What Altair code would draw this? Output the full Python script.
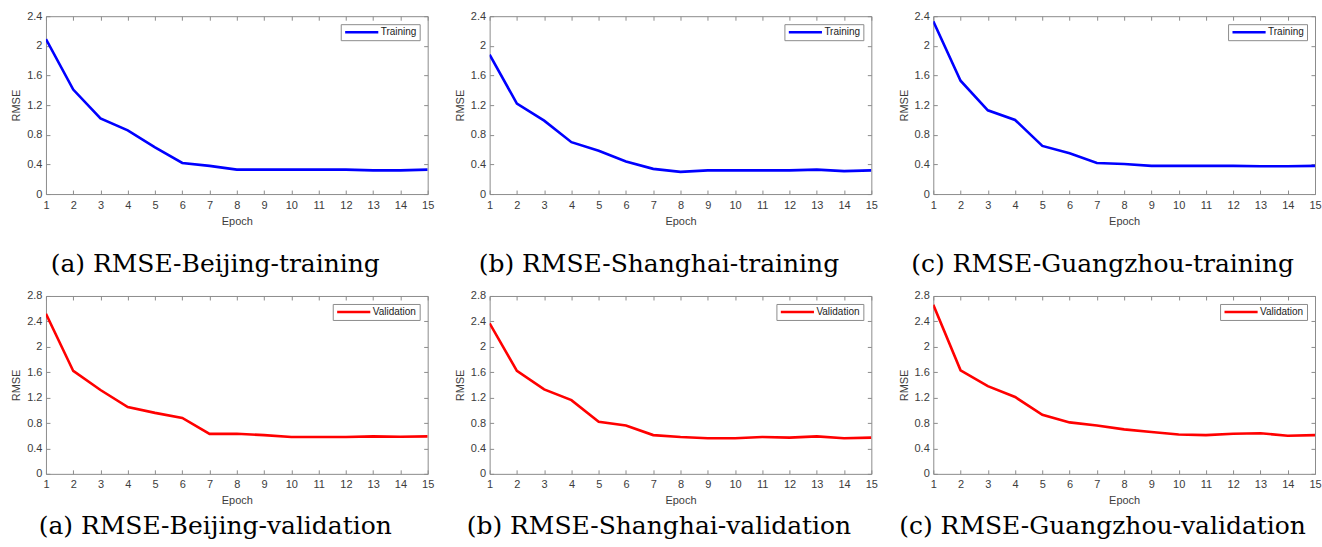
import altair as alt
import pandas as pd

epochs = list(range(1, 16))

bj_train = [2.09, 1.41, 1.02, 0.86, 0.63, 0.42, 0.38, 0.33, 0.33, 0.33, 0.33, 0.33, 0.32, 0.32, 0.33]
sh_train = [1.88, 1.22, 0.99, 0.70, 0.585, 0.44, 0.34, 0.30, 0.32, 0.32, 0.32, 0.32, 0.33, 0.31, 0.32]
gz_train = [2.33, 1.53, 1.13, 1.00, 0.65, 0.55, 0.42, 0.405, 0.38, 0.38, 0.38, 0.38, 0.375, 0.375, 0.38]

bj_val = [2.52, 1.62, 1.32, 1.05, 0.96, 0.88, 0.63, 0.63, 0.61, 0.58, 0.58, 0.58, 0.59, 0.585, 0.59]
sh_val = [2.37, 1.62, 1.33, 1.16, 0.82, 0.76, 0.61, 0.58, 0.56, 0.56, 0.58, 0.57, 0.59, 0.56, 0.57]
gz_val = [2.66, 1.63, 1.38, 1.21, 0.93, 0.81, 0.76, 0.70, 0.66, 0.62, 0.61, 0.63, 0.64, 0.60, 0.61]

train_yticks = [0, 0.4, 0.8, 1.2, 1.6, 2, 2.4]
val_yticks = [0, 0.4, 0.8, 1.2, 1.6, 2, 2.4, 2.8]

captions_train = ["(a) RMSE-Beijing-training", "(b) RMSE-Shanghai-training", "(c) RMSE-Guangzhou-training"]
captions_val = ["(a) RMSE-Beijing-validation", "(b) RMSE-Shanghai-validation", "(c) RMSE-Guangzhou-validation"]

FRAME = "#8c8c8c"
TXT = "#3c3c3c"
W, H = 382, 178
TICK = 4


def panel(values, series, color, yticks, caption, cap_offset):
    ymax = yticks[-1]
    df = pd.DataFrame({"Epoch": epochs, "RMSE": values, "series": [series] * len(epochs)})
    xs = alt.Scale(domain=[1, 15], nice=False, zero=False)
    ys = alt.Scale(domain=[0, ymax], nice=False)

    return alt.Chart(df).mark_line(strokeWidth=2.6, clip=True).encode(
        x=alt.X("Epoch:Q", scale=xs,
                axis=alt.Axis(values=epochs, title="Epoch", labelPadding=5, titlePadding=5,
                              labelOverlap=False, labelFlush=False,
                              grid=True, gridDash=[TICK, H - 2 * TICK, TICK, 0])),
        y=alt.Y("RMSE:Q", scale=ys,
                axis=alt.Axis(values=yticks, format="~g", title="RMSE", labelPadding=4,
                              titlePadding=5, labelOverlap=False, labelFlush=False,
                              grid=True, gridDash=[TICK, W - 2 * TICK, TICK, 0])),
        color=alt.Color("series:N",
                        scale=alt.Scale(domain=[series], range=[color]),
                        legend=alt.Legend(orient="top-right", title=None, offset=8,
                                          strokeColor=FRAME, fillColor="white", padding=3,
                                          symbolType="stroke", symbolSize=1100, clipHeight=10,
                                          symbolStrokeWidth=2.6, labelFont="Liberation Sans",
                                          labelFontSize=10, labelColor="#222", labelOffset=1)),
    ).properties(
        width=W, height=H,
        title=alt.TitleParams(text=caption, orient="bottom", font="DejaVu Serif",
                              fontSize=25, fontWeight="normal", color="black",
                              anchor="middle", frame="bounds", offset=cap_offset, dx=-7),
    )


row1 = alt.hconcat(
    panel(bj_train, "Training", "#0000ff", train_yticks, captions_train[0], 26),
    panel(sh_train, "Training", "#0000ff", train_yticks, captions_train[1], 26),
    panel(gz_train, "Training", "#0000ff", train_yticks, captions_train[2], 26),
    spacing=19,
).resolve_scale(color="independent", x="independent", y="independent")

row2 = alt.hconcat(
    panel(bj_val, "Validation", "#ff0000", val_yticks, captions_val[0], 8),
    panel(sh_val, "Validation", "#ff0000", val_yticks, captions_val[1], 8),
    panel(gz_val, "Validation", "#ff0000", val_yticks, captions_val[2], 8),
    spacing=19,
).resolve_scale(color="independent", x="independent", y="independent")

chart = alt.vconcat(row1, row2, spacing=11).resolve_scale(
    color="independent", x="independent", y="independent"
).properties(
    padding={"left": 10, "top": 9, "right": 0, "bottom": 0},
    background="white",
).configure_view(
    stroke=FRAME, strokeWidth=1
).configure_axis(
    labelFont="Liberation Sans", labelFontSize=11, labelColor=TXT,
    titleFont="Liberation Sans", titleFontSize=11, titleColor=TXT, titleFontWeight="normal",
    ticks=False, domain=False, gridColor=FRAME, gridWidth=1, gridOpacity=1,
    labelOverlap=False, labelFlush=False,
)

chart.save("out.html", embed_options={"renderer": "svg", "actions": False})
